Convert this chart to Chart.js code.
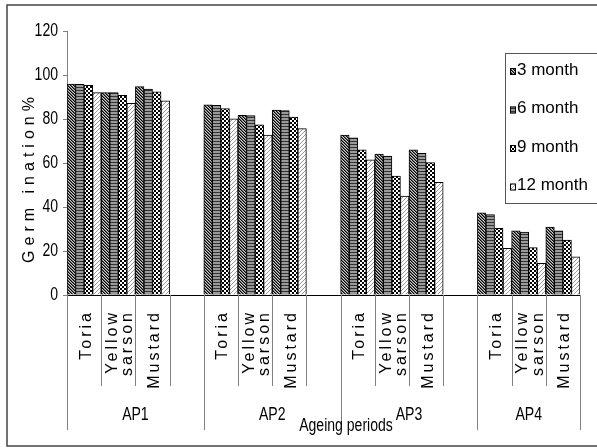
<!DOCTYPE html>
<html>
<head>
<meta charset="utf-8">
<script src="https://cdn.jsdelivr.net/npm/chart.js@4.4.1/dist/chart.umd.min.js"></script>
<style>
  body { margin: 0; background: #fff; }
  canvas { display: block; }
</style>
</head>
<body>
<canvas id="myChart" width="597" height="448"></canvas>
<script>
var groups = ["AP1", "AP2", "AP3", "AP4"]
var crops = [["Toria"], ["Yellow", "sarson"], ["Mustard"]]
var seriesNames = ["3 month", "6 month", "9 month", "12 month"]

// 15 slots: every ageing period has the 3 crops and one empty slot, the last one has no empty slot
var month3  = [95.9, 92.0, 94.7, null, 86.4, 81.7, 84.0, null, 72.7, 64.0, 66.0, null, 37.4, 29.2, 30.9]
var month6  = [95.8, 92.0, 93.6, null, 86.2, 81.5, 83.8, null, 71.4, 63.2, 64.4, null, 36.5, 28.6, 29.2]
var month9  = [95.3, 90.8, 92.3, null, 84.7, 77.4, 80.9, null, 66.0, 54.1, 60.2, null, 30.3, 21.5, 25.0]
var month12 = [92.0, 87.1, 88.3, null, 80.1, 72.7, 75.6, null, 61.4, 45.0, 51.2, null, 21.2, 14.4, 17.4]
var yTicks = [0, 20, 40, 60, 80, 100, 120]

var labels = []
for (let g=0;g<groups.length;g++){
  for (let c=0;c<crops.length;c++){ labels.push(crops[c]) }
  if (g < groups.length-1){ labels.push("") }
}

const SANS = '"Liberation Sans", Arial, sans-serif'

// fill patterns like the old excel ones
function makePattern(kind){
  const c = document.createElement('canvas')
  const g = c.getContext('2d')
  if (kind == 'diag'){
    c.width = 3; c.height = 3
    for (let x=0;x<3;x++){
      for (let y=0;y<3;y++){
        let k = (x - y + 3) % 3
        g.fillStyle = k == 0 ? '#000' : (k == 1 ? '#666' : '#ccc')
        g.fillRect(x, y, 1, 1)
      }
    }
  } else if (kind == 'hstripe'){
    c.width = 3; c.height = 3
    g.fillStyle = '#999'; g.fillRect(0, 0, 3, 3)
    g.fillStyle = '#333'; g.fillRect(0, 0, 3, 1)
  } else if (kind == 'check'){
    c.width = 4; c.height = 4
    g.fillStyle = '#fff'; g.fillRect(0, 0, 4, 4)
    g.fillStyle = '#000'; g.fillRect(0, 0, 2, 2); g.fillRect(2, 2, 2, 2)
  } else {
    c.width = 4; c.height = 4
    g.fillStyle = '#fff'; g.fillRect(0, 0, 4, 4)
    g.fillStyle = '#999'
    for (let x=0;x<4;x++){ g.fillRect(x, 3 - x, 1, 1) }
  }
  return g.createPattern(c, 'repeat')
}
const PATTERNS = [makePattern('diag'), makePattern('hstripe'), makePattern('check'), makePattern('light')]

const data = {
  labels: labels,
  datasets: [
    { label: seriesNames[0], data: month3,  backgroundColor: PATTERNS[0] },
    { label: seriesNames[1], data: month6,  backgroundColor: PATTERNS[1] },
    { label: seriesNames[2], data: month9,  backgroundColor: PATTERNS[2] },
    { label: seriesNames[3], data: month12, backgroundColor: PATTERNS[3] }
  ]
}
data.datasets.forEach(function(ds){
  ds.borderColor = '#000'
  ds.borderWidth = 1
  ds.categoryPercentage = 1
  ds.barPercentage = 1
})

// no narrow font installed, so squeeze the normal one
function narrowText(ctx, text, x, y, align){
  ctx.save()
  ctx.translate(x, y)
  ctx.scale(0.78, 1)
  ctx.textAlign = align
  ctx.fillText(text, 0, 0)
  ctx.restore()
}

const decor = {
  id: 'decor',
  afterDraw: function(chart){
    const ctx = chart.ctx
    const xs = chart.scales.x
    const ys = chart.scales.y
    const n = labels.length
    const w = (xs.right - xs.left) / n
    const axisY = chart.chartArea.bottom
    ctx.save()

    // outer frame
    ctx.strokeStyle = '#444'
    ctx.lineWidth = 1.5
    ctx.strokeRect(7, 5, 620, 441)

    // separator lines under the axis
    ctx.strokeStyle = '#808080'
    ctx.lineWidth = 1
    for (let i=0;i<=n;i++){
      let bx = Math.round(xs.left + i*w) + 0.5
      let long = (i % 4 == 0) || i == n
      ctx.beginPath()
      ctx.moveTo(bx, axisY)
      ctx.lineTo(bx, long ? 430 : 386)
      ctx.stroke()
    }

    ctx.fillStyle = '#000'
    ctx.textBaseline = 'middle'

    // y tick labels
    ctx.font = '18px ' + SANS
    yTicks.forEach(function(v){
      narrowText(ctx, String(v), 58, ys.getPixelForValue(v), 'right')
    })

    // rotated crop labels
    ctx.font = '16px ' + SANS
    ctx.letterSpacing = '3px'
    ctx.textAlign = 'right'
    for (let i=0;i<n;i++){
      let lines = labels[i]
      if (!lines) continue
      let cx = xs.getPixelForValue(i) + 2
      for (let k=0;k<lines.length;k++){
        let lx = cx + (k - (lines.length-1)/2) * 15.5
        ctx.save()
        ctx.translate(lx, 310)
        ctx.rotate(-Math.PI/2)
        ctx.fillText(lines[k], 0, 0)
        ctx.restore()
      }
    }

    // y title
    ctx.letterSpacing = '5px'
    ctx.textAlign = 'center'
    ctx.save()
    ctx.translate(30, 180)
    ctx.rotate(-Math.PI/2)
    ctx.fillText('Germ ination%', 2.5, 0)
    ctx.restore()
    ctx.letterSpacing = '0px'

    // group labels
    ctx.font = '18px ' + SANS
    for (let g=0;g<groups.length;g++){
      let s = g*4, e = Math.min(g*4 + 4, n)
      narrowText(ctx, groups[g], xs.left + (s + e)/2*w, 415, 'center')
    }
    narrowText(ctx, 'Ageing periods', 346, 426, 'center')

    // legend
    ctx.strokeStyle = '#555'
    ctx.lineWidth = 1
    ctx.strokeRect(505.5, 53.5, 120, 150)
    ctx.font = '17px ' + SANS
    ctx.textAlign = 'left'
    for (let i=0;i<seriesNames.length;i++){
      let cy = 70 + i*38.5
      ctx.fillStyle = PATTERNS[i]
      ctx.fillRect(510, cy - 2, 6, 7)
      ctx.strokeStyle = '#000'
      ctx.strokeRect(510.5, cy - 1.5, 5, 6)
      ctx.fillStyle = '#000'
      ctx.fillText(seriesNames[i], 517, cy)
    }
    ctx.restore()
  }
}

const config = {
  type: 'bar',
  data: data,
  options: {
    responsive: false,
    animation: false,
    layout: { padding: { left: 0, top: 31, right: 17, bottom: 0 } },
    plugins: {
      legend: { display: false },
      tooltip: { enabled: false }
    },
    scales: {
      x: {
        offset: true,
        grid: { display: false },
        ticks: { display: false },
        border: { color: '#000', width: 1 },
        afterFit: function(s){ s.height = 153 }
      },
      y: {
        min: 0,
        max: 120,
        afterBuildTicks: function(s){ s.ticks = yTicks.map(v => ({ value: v })) },
        ticks: { display: false },
        grid: { drawOnChartArea: false, drawTicks: true, tickLength: 4, color: '#808080' },
        border: { color: '#808080', width: 1 },
        afterFit: function(s){ s.width = 67 }
      }
    }
  },
  plugins: [decor]
}

const myChart = new Chart(document.getElementById('myChart'), config)
</script>
</body>
</html>
